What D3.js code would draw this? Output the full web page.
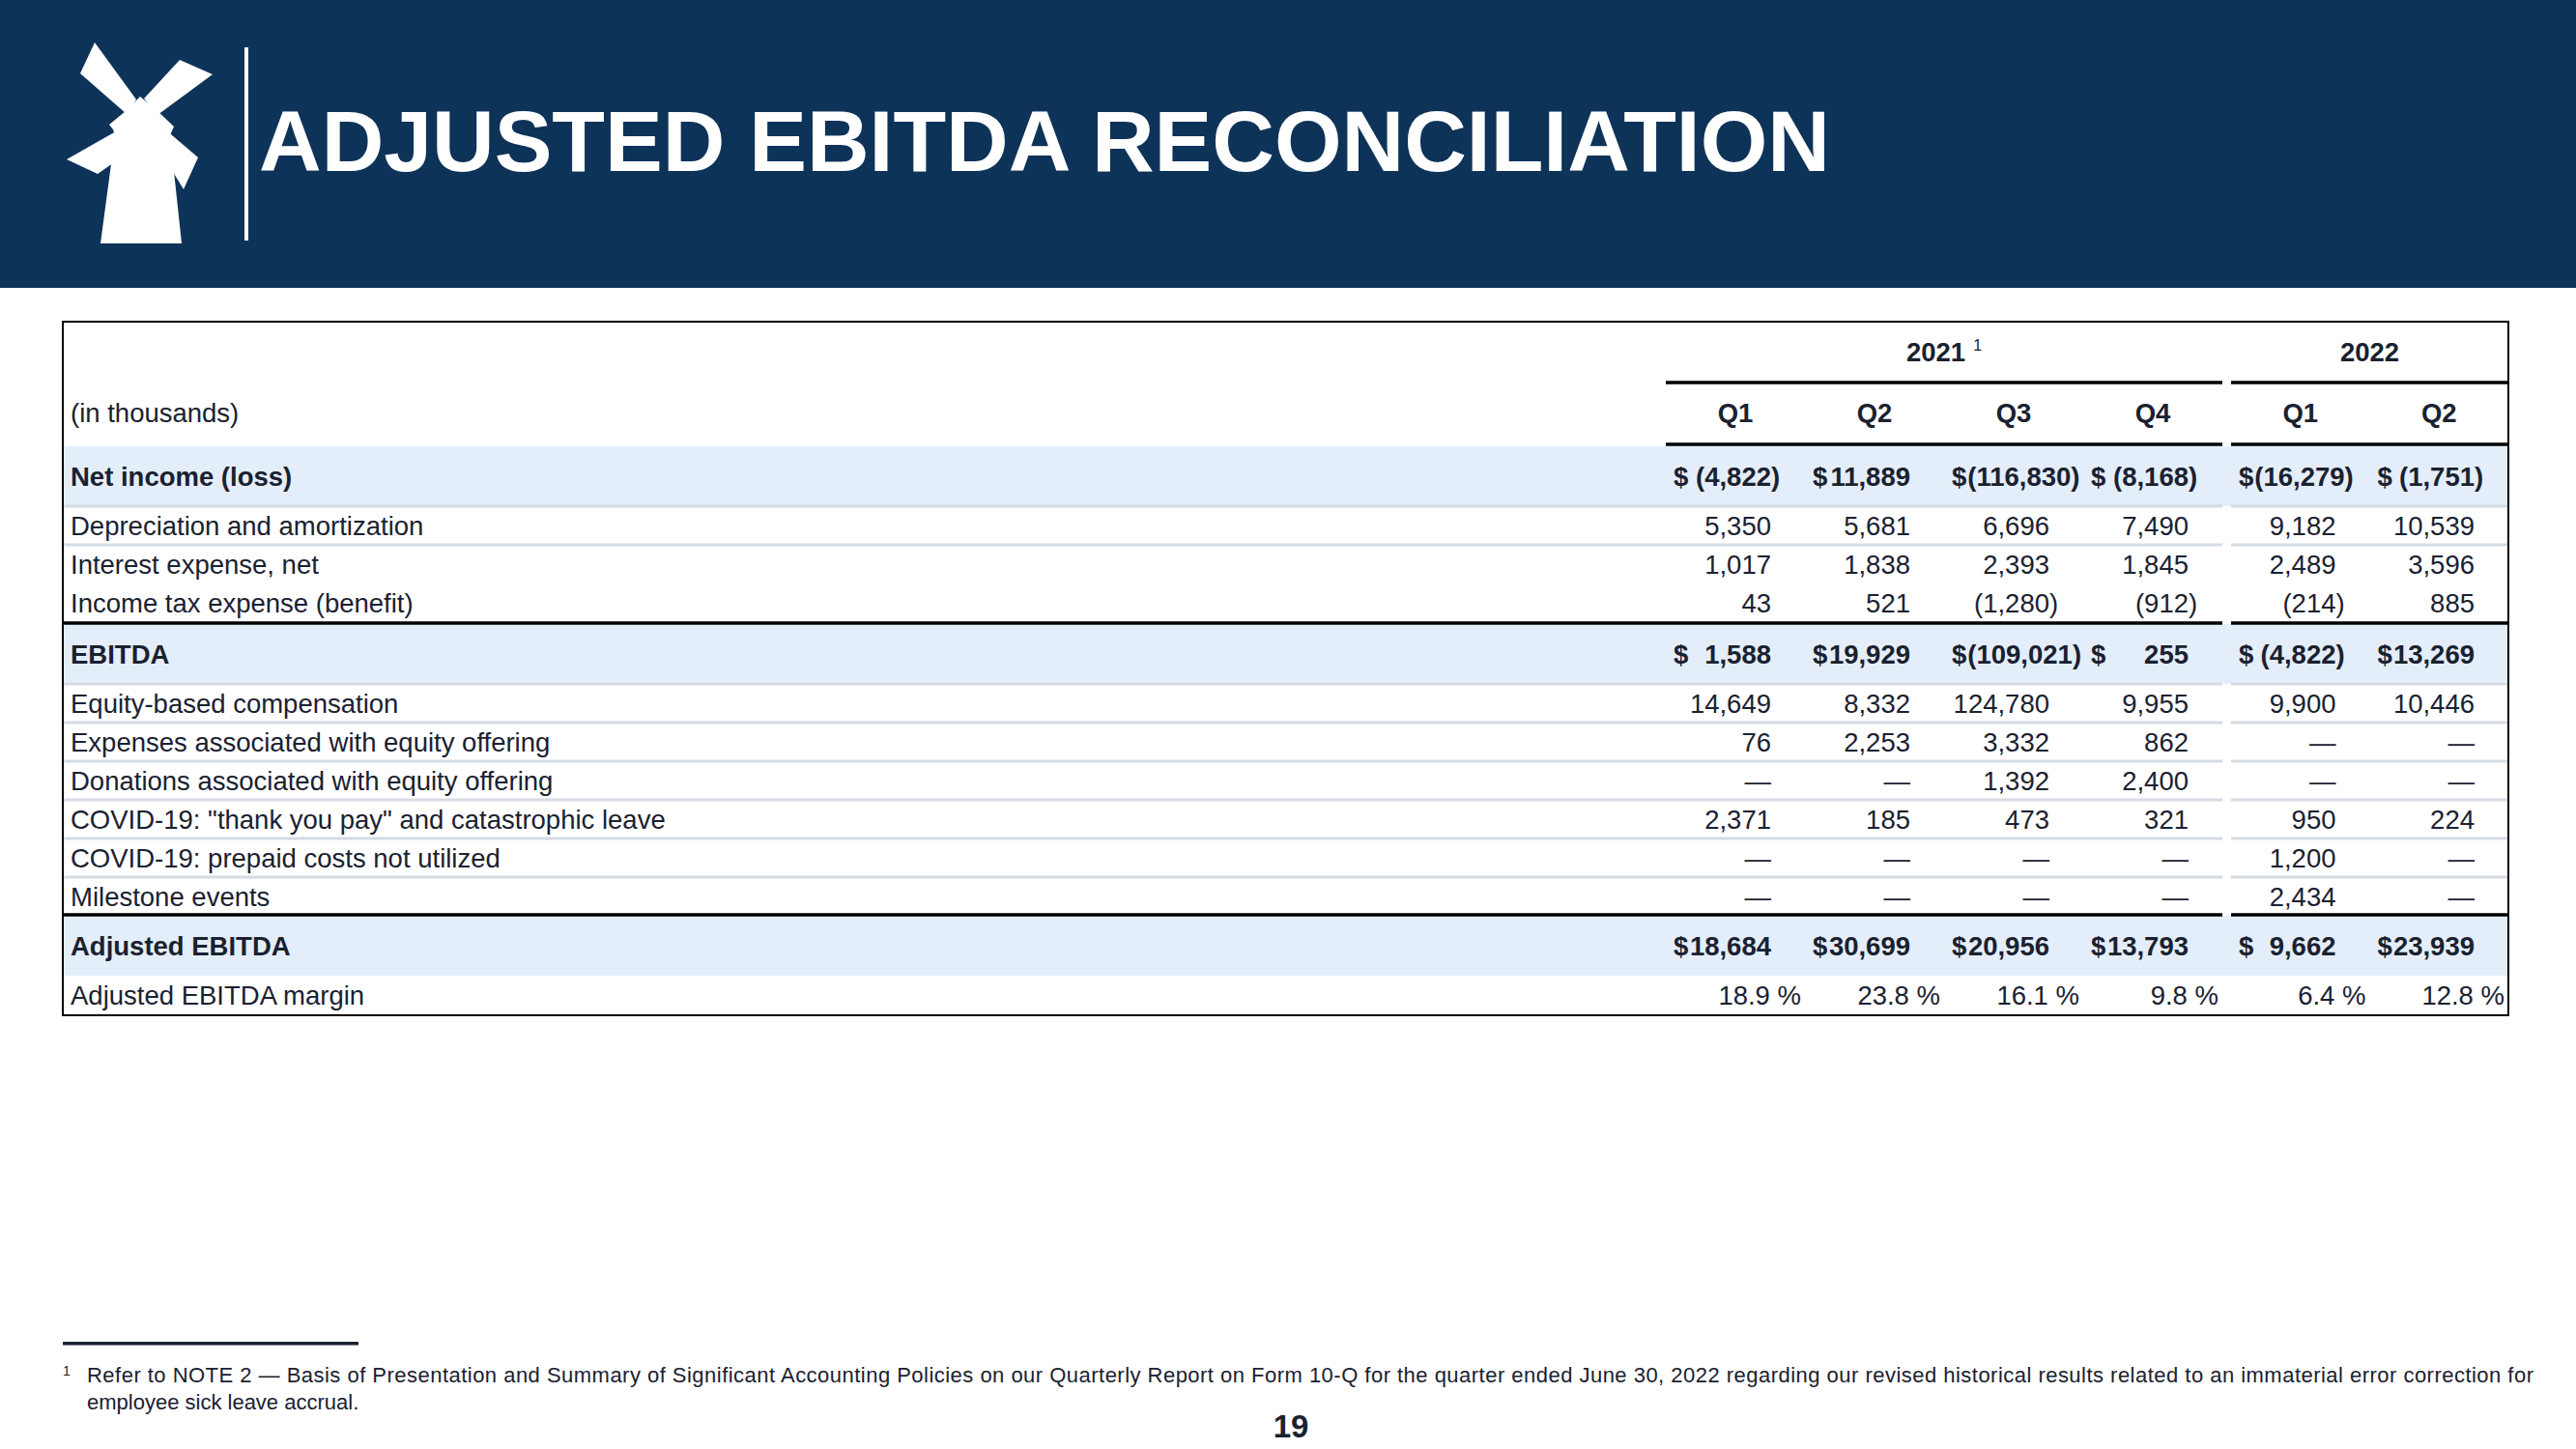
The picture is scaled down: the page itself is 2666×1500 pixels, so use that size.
<!DOCTYPE html>
<html>
<head>
<meta charset="utf-8">
<script src="https://cdn.jsdelivr.net/npm/d3@7"></script>
<style>
  body { margin: 0; background: #fff; }
  svg { display: block; font-family: "Liberation Sans", Arial, sans-serif; }
</style>
</head>
<body>
<div id="chart"></div>
<script>
// column headers
const years = ["2021", "2022"];
const quarters = ["Q1", "Q2", "Q3", "Q4", "Q1", "Q2"];

// row labels
const rowLabels = [
    "Net income (loss)",
    "Depreciation and amortization",
    "Interest expense, net",
    "Income tax expense (benefit)",
    "EBITDA",
    "Equity-based compensation",
    "Expenses associated with equity offering",
    "Donations associated with equity offering",
    "COVID-19: \"thank you pay\" and catastrophic leave",
    "COVID-19: prepaid costs not utilized",
    "Milestone events",
    "Adjusted EBITDA",
    "Adjusted EBITDA margin"
];
const totalRows = ["Net income (loss)", "EBITDA", "Adjusted EBITDA"];

// values, in thousands (null = dash)
const netIncome = [-4822, 11889, -116830, -8168, -16279, -1751];
const depreciation = [5350, 5681, 6696, 7490, 9182, 10539];
const interestExpense = [1017, 1838, 2393, 1845, 2489, 3596];
const incomeTax = [43, 521, -1280, -912, -214, 885];
const ebitda = [1588, 19929, -109021, 255, -4822, 13269];
const equityComp = [14649, 8332, 124780, 9955, 9900, 10446];
const offeringExpenses = [76, 2253, 3332, 862, null, null];
const offeringDonations = [null, null, 1392, 2400, null, null];
const thankYouPay = [2371, 185, 473, 321, 950, 224];
const prepaidCosts = [null, null, null, null, 1200, null];
const milestoneEvents = [null, null, null, null, 2434, null];
const adjEbitda = [18684, 30699, 20956, 13793, 9662, 23939];
const adjMargin = [18.9, 23.8, 16.1, 9.8, 6.4, 12.8];

const rowValues = [netIncome, depreciation, interestExpense, incomeTax, ebitda, equityComp,
    offeringExpenses, offeringDonations, thankYouPay, prepaidCosts, milestoneEvents, adjEbitda, adjMargin];

const W = 2666, H = 1500;
const navy = "#0e3359", ink = "#1a2130", band = "#e4eefa", grey = "#d5dbe3";
const fs = 27.5;

const svg = d3.select("#chart").append("svg")
    .attr("width", W).attr("height", H);

// ---- header band ----
svg.append("rect").attr("x", 0).attr("y", 0).attr("width", W).attr("height", 298).attr("fill", navy);

// windmill logo
const logo = svg.append("g").attr("fill", "#fff");
const blades = [
    [[98, 44], [83, 76], [131, 118], [141, 103]],
    [[186, 62], [220, 77], [163, 119], [149, 102]],
    [[69, 165], [101, 180], [124, 164], [120, 136]],
    [[205, 163], [190, 196], [179, 178], [171, 134]]
];
blades.forEach(b => logo.append("path").attr("d", d3.line()(b) + "Z"));
logo.append("path").attr("d", d3.line()([
    [145, 100], [130, 115], [113, 129], [117, 134], [119, 140], [104, 252],
    [188, 252], [176, 140], [180, 131], [162, 114]
]) + "Z");

svg.append("rect").attr("x", 253).attr("y", 49).attr("width", 4).attr("height", 200).attr("fill", "#fff");

svg.append("text")
    .attr("x", 268).attr("y", 177)
    .attr("fill", "#fff")
    .attr("font-size", 89.5).attr("font-weight", "bold")
    .text("ADJUSTED EBITDA RECONCILIATION");

// ---- table ----
const tLeft = 65, tRight = 2596, tTop = 333;
const labelX = 73;
const pad = 35;

const x2021 = d3.scaleBand().domain([0, 1, 2, 3]).range([1724, 2300]);
const x2022 = d3.scaleBand().domain([4, 5]).range([2309, tRight]);
const colLeft = i => i < 4 ? x2021(i) : x2022(i);
const colWidth = i => i < 4 ? x2021.bandwidth() : x2022.bandwidth();
const groups = [[1724, 2300], [2309, tRight]];

// row heights
const headH = 63;
const rowH = rowLabels.map(l => totalRows.includes(l) ? 62 : (l === "Adjusted EBITDA margin" ? 41 : 40));
const bodyTop = tTop + 2 * headH + 3;
const rowTop = rowH.map((h, i) => bodyTop + d3.sum(rowH.slice(0, i)) + (i >= 4 ? 2 : 0));

const rows = rowLabels.map((label, i) => ({
    label: label,
    values: rowValues[i],
    total: totalRows.includes(label),
    margin: label === "Adjusted EBITDA margin",
    top: rowTop[i],
    h: rowH[i]
}));

const tbl = svg.append("g");

// highlight bands
tbl.selectAll(".band").data(rows.filter(r => r.total)).join("rect")
    .attr("class", "band")
    .attr("x", tLeft).attr("y", d => d.top)
    .attr("width", tRight - tLeft).attr("height", d => d.h)
    .attr("fill", band);

// grey separators
const greyAfter = [0, 1, 4, 5, 6, 7, 8, 9];
greyAfter.forEach(i => {
    const y = rows[i].top + rows[i].h;
    tbl.append("line").attr("x1", tLeft).attr("x2", groups[0][1]).attr("y1", y).attr("y2", y)
        .attr("stroke", grey).attr("stroke-width", 3);
    tbl.append("line").attr("x1", groups[1][0]).attr("x2", tRight).attr("y1", y).attr("y2", y)
        .attr("stroke", grey).attr("stroke-width", 3);
});

// thick rules above EBITDA and Adjusted EBITDA
[4, 11].forEach(i => {
    const y = rows[i].top - 1;
    tbl.append("line").attr("x1", tLeft).attr("x2", groups[0][1]).attr("y1", y).attr("y2", y)
        .attr("stroke", "#000").attr("stroke-width", 3.5);
    tbl.append("line").attr("x1", groups[1][0]).attr("x2", tRight).attr("y1", y).attr("y2", y)
        .attr("stroke", "#000").attr("stroke-width", 3.5);
});

// header rules
[tTop + headH, tTop + 2 * headH + 1].forEach(y => {
    groups.forEach(g => {
        tbl.append("line").attr("x1", g[0]).attr("x2", g[1]).attr("y1", y).attr("y2", y)
            .attr("stroke", "#000").attr("stroke-width", 3.5);
    });
});

// outer border
const tBottom = rows[rows.length - 1].top + rows[rows.length - 1].h;
tbl.append("rect").attr("x", tLeft).attr("y", tTop)
    .attr("width", tRight - tLeft).attr("height", tBottom - tTop)
    .attr("fill", "none").attr("stroke", "#000").attr("stroke-width", 2);

// year headers
years.forEach((yr, k) => {
    const cx = (groups[k][0] + groups[k][1]) / 2;
    const t = tbl.append("text").attr("x", cx).attr("y", tTop + headH / 2).attr("dy", "0.35em")
        .attr("text-anchor", "middle").attr("font-size", fs).attr("font-weight", "bold").attr("fill", ink)
        .text(yr);
    if (k === 0) {
        t.append("tspan").attr("font-size", 16).attr("font-weight", "normal").attr("dx", 8).attr("dy", "-0.7em").text("1");
    }
});

// quarter headers
const qy = tTop + headH + headH / 2;
tbl.selectAll(".qhead").data(quarters).join("text")
    .attr("class", "qhead")
    .attr("x", (d, i) => colLeft(i) + colWidth(i) / 2)
    .attr("y", qy).attr("dy", "0.35em")
    .attr("text-anchor", "middle").attr("font-size", fs).attr("font-weight", "bold").attr("fill", ink)
    .text(d => d);

tbl.append("text").attr("x", labelX).attr("y", qy).attr("dy", "0.35em")
    .attr("font-size", fs).attr("fill", ink).text("(in thousands)");

// row labels
tbl.selectAll(".rlabel").data(rows).join("text")
    .attr("class", "rlabel")
    .attr("x", labelX).attr("y", d => d.top + d.h / 2).attr("dy", "0.35em")
    .attr("font-size", fs).attr("font-weight", d => d.total ? "bold" : "normal")
    .attr("fill", ink)
    .text(d => d.label);

// cell values
const fmt = d3.format(",");
rows.forEach(r => {
    const cy = r.top + r.h / 2;
    r.values.forEach((v, i) => {
        const left = colLeft(i), right = left + colWidth(i);
        const cell = tbl.append("g").attr("font-size", fs).attr("fill", ink)
            .attr("font-weight", r.total ? "bold" : "normal");
        if (r.margin) {
            cell.append("text").attr("x", right - 4).attr("y", cy).attr("dy", "0.35em")
                .attr("text-anchor", "end").text(v.toFixed(1) + " %");
            return;
        }
        if (v === null) {
            cell.append("text").attr("x", right - pad).attr("y", cy).attr("dy", "0.35em")
                .attr("text-anchor", "end").text("\u2014");
            return;
        }
        let minX = 0;
        if (r.total) {
            const dollar = cell.append("text").attr("x", left + 8).attr("y", cy).attr("dy", "0.35em").text("$");
            minX = left + 8 + dollar.node().getComputedTextLength() + 1;
        }
        const main = cell.append("text").attr("y", cy).attr("dy", "0.35em")
            .attr("text-anchor", "end")
            .text(v < 0 ? "(" + fmt(-v) : fmt(v));
        const ax = Math.max(right - pad, minX + main.node().getComputedTextLength());
        main.attr("x", ax);
        if (v < 0) {
            cell.append("text").attr("x", ax).attr("y", cy).attr("dy", "0.35em").text(")");
        }
    });
});

// ---- footnote ----
svg.append("rect").attr("x", 65).attr("y", 1389).attr("width", 306).attr("height", 3.5).attr("fill", ink);
svg.append("text").attr("x", 65).attr("y", 1424).attr("font-size", 14).attr("fill", ink).text("1");
svg.append("text").attr("x", 90).attr("y", 1431).attr("font-size", 22).attr("fill", ink)
    .attr("textLength", 2532).attr("lengthAdjust", "spacing")
    .text("Refer to NOTE 2 \u2014 Basis of Presentation and Summary of Significant Accounting Policies on our Quarterly Report on Form 10-Q for the quarter ended June 30, 2022 regarding our revised historical results related to an immaterial error correction for");
svg.append("text").attr("x", 90).attr("y", 1459).attr("font-size", 22).attr("fill", ink)
    .text("employee sick leave accrual.");

svg.append("text").attr("x", 1336).attr("y", 1488).attr("text-anchor", "middle")
    .attr("font-size", 33).attr("font-weight", "bold").attr("fill", ink).text("19");
</script>
</body>
</html>
